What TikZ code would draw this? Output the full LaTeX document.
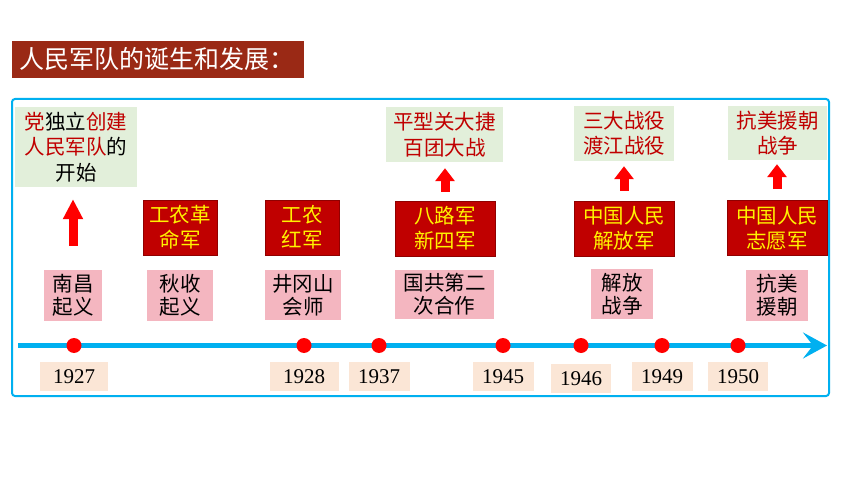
\documentclass[tikz,border=0pt]{standalone}
\usepackage{fontspec}
\setmainfont{Liberation Serif}
\newfontfamily\cjk{Noto Sans CJK SC}
\usetikzlibrary{arrows.meta, positioning}
\definecolor{lineblue}{HTML}{00B0F0}
\definecolor{titlered}{HTML}{9A2915}
\definecolor{armyred}{HTML}{C00000}
\definecolor{eventpink}{HTML}{F4B6C0}
\definecolor{battlegreen}{HTML}{E2EFDA}
\definecolor{yearpeach}{HTML}{FBE6D6}
\definecolor{textred}{HTML}{C00000}
\tikzstyle{event} = [rectangle, fill=eventpink, align=center, inner sep=2pt, minimum height=51pt, font=\cjk\fontsize{20.5}{23}\selectfont]
\tikzstyle{army} = [rectangle, fill=armyred, draw=armyred!75!black, line width=0.6pt, text=yellow, align=center, inner sep=2pt, minimum width=100pt, minimum height=55pt, font=\cjk\fontsize{20.5}{25}\selectfont]
\tikzstyle{battle} = [rectangle, fill=battlegreen, text=textred, align=center, inner sep=2pt, minimum height=55pt, font=\cjk\fontsize{20.5}{25.5}\selectfont]
\tikzstyle{year} = [rectangle, fill=yearpeach, minimum width=61pt, minimum height=29pt, inner sep=1pt, font=\fontsize{21}{24}\selectfont]
\tikzstyle{yeardot} = [circle, fill=red, minimum size=15pt, inner sep=0pt]
\tikzstyle{rise} = [line width=9pt, red, -{Triangle[width=19pt, length=13pt]}]
\tikzstyle{timeline} = [line width=4.5pt, lineblue, -{Stealth[length=24pt, width=26pt, inset=10pt]}]
\begin{document}
\begin{tikzpicture}[x=1pt, y=-1pt]

	\fill[white] (0,0) rectangle (860,484);
	\useasboundingbox (0,0) rectangle (860,484);

	% Title
	\node (title) [anchor=west, fill=titlered, text=white, text width=278pt, inner xsep=7pt, minimum height=37pt, font=\cjk\fontsize{25}{28}\selectfont] at (12,59.5) {人民军队的诞生和发展：};

	% Frame
	\draw[lineblue, line width=2pt, rounded corners=3pt] (12,99) rectangle (829,396);

	% Timeline
	\coordinate (line_start) at (18,345.5);
	\coordinate (line_end) at (827,345.5);
	\draw[timeline] (line_start) -- (line_end);

	\node (dot1927) [yeardot] at (74,345.5) {};
	\node (dot1928) [yeardot] at (304,345.5) {};
	\node (dot1937) [yeardot] at (379,345.5) {};
	\node (dot1945) [yeardot] at (503,345.5) {};
	\node (dot1946) [yeardot] at (581,345.5) {};
	\node (dot1949) [yeardot] at (662,345.5) {};
	\node (dot1950) [yeardot] at (738,345.5) {};

	% Years
	\node (y1927) [year, minimum width=68pt, below=8.5pt of dot1927] {1927};
	\node (y1928) [year, minimum width=69pt, below=8.5pt of dot1928] {1928};
	\node (y1937) [year, below=8.5pt of dot1937] {1937};
	\node (y1945) [year, below=8.5pt of dot1945] {1945};
	\node (y1946) [year, minimum width=60pt, below=10.5pt of dot1946] {1946};
	\node (y1949) [year, below=8.5pt of dot1949] {1949};
	\node (y1950) [year, minimum width=60pt, below=8.5pt of dot1950] {1950};

	% Events
	\node (nanchang) [event, minimum width=58pt] at (73,295.5) {南昌\\起义};
	\node (qiushou) [event, minimum width=66pt] at (180,295.5) {秋收\\起义};
	\node (jinggang) [event, minimum width=76pt, minimum height=50pt] at (303,295) {井冈山\\会师};
	\node (guogong) [event, minimum width=99pt, minimum height=49pt] at (444.5,294.5) {国共第二\\次合作};
	\node (jiefang) [event, minimum width=62pt, minimum height=50pt] at (622,294) {解放\\战争};
	\node (kangmei) [event, minimum width=62pt] at (777,295.5) {抗美\\援朝};

	% Armies
	\node (gongnong) [army, minimum width=74pt] at (180,227.5) {工农革\\命军};
	\node (hongjun) [army, minimum width=74pt] at (302,227.5) {工农\\红军};
	\node (balu) [army] at (445,228.5) {八路军\\新四军};
	\node (jiefangjun) [army] at (624,228.5) {中国人民\\解放军};
	\node (zhiyuan) [army] at (777,228) {中国人民\\志愿军};

	% Battles
	\node (party) [battle, text=black, minimum width=122pt, minimum height=80pt] at (76,147) {\textcolor{textred}{党}独立\textcolor{textred}{创建}\\\textcolor{textred}{人民军队}的\\开始};
	\node (pingxing) [battle, minimum width=117pt] at (444.5,134.5) {平型关大捷\\百团大战};
	\node (sanda) [battle, minimum width=100pt] at (624,133.5) {三大战役\\渡江战役};
	\node (kangzhan) [battle, minimum width=99pt, minimum height=54pt] at (777.5,133) {抗美援朝\\战争};

	% Arrows
	\draw[rise, -{Triangle[width=19pt, length=20pt]}, shorten <=24pt, shorten >=12pt] (nanchang.north) -- (nanchang.north|-party.south);
	\draw[rise, shorten <=9pt, shorten >=6pt] (balu.north) -- (balu.north|-pingxing.south);
	\draw[rise, shorten <=10pt, shorten >=5pt] (jiefangjun.north) -- (jiefangjun.north|-sanda.south);
	\draw[rise, shorten <=11pt, shorten >=4pt] (zhiyuan.north) -- (zhiyuan.north|-kangzhan.south);

\end{tikzpicture}
\end{document}
